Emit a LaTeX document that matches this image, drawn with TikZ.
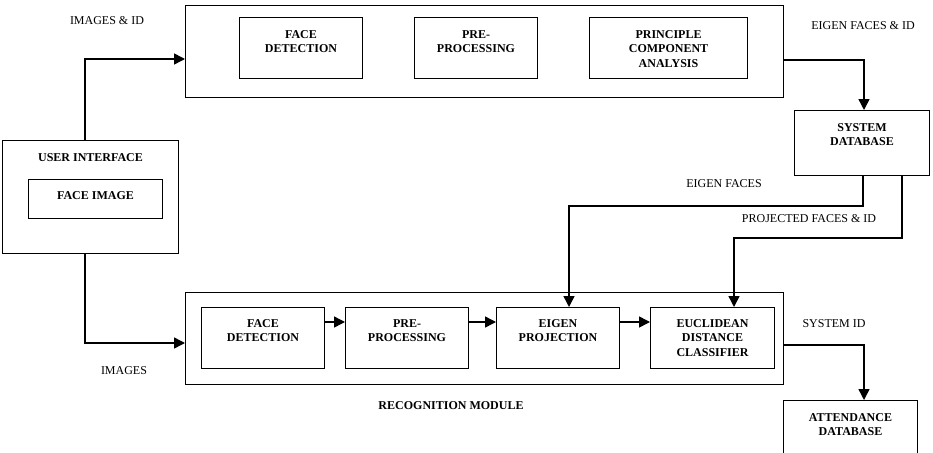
\documentclass[tikz,border=0pt]{standalone}
\usepackage{fontspec}
\setmainfont{Liberation Serif}
\usetikzlibrary{arrows.meta,calc}
\begin{document}
\begin{tikzpicture}[x=1pt,y=-1pt,
  box/.style={draw,line width=1pt,inner sep=0pt,anchor=north west},
  outer/.style={draw,line width=1.3pt,inner sep=0pt,anchor=north west},
  btxt/.style={font=\fontsize{12}{14.5}\selectfont\bfseries,align=center,inner sep=0pt,anchor=north},
  lbl/.style={font=\fontsize{12}{14}\selectfont,inner sep=0pt},
  blbl/.style={font=\fontsize{12}{14}\selectfont\bfseries,inner sep=0pt},
  arr/.style={line width=1.5pt,-{Triangle[length=11pt,width=11pt]}}]
\clip (0,0) rectangle (933,452);
\fill[white] (0,0) rectangle (933,452);
% top module
\node[outer,minimum width=598pt,minimum height=92pt] (tm) at (185,5) {};
\node[box,minimum width=123pt,minimum height=61pt] (fd1) at (239,17) {};
\node[box,minimum width=123pt,minimum height=61pt] (pp1) at (414,17) {};
\node[box,minimum width=158pt,minimum height=61pt] (pca) at (589,17) {};
\node[btxt] (fd1t) at ($(fd1.north)+(0,13)$) {FACE\\DETECTION};
\node[btxt] (pp1t) at ($(pp1.north)+(0,13)$) {PRE-\\PROCESSING};
\node[btxt] (pcat) at ($(pca.north)+(0,13)$) {PRINCIPLE\\COMPONENT\\ANALYSIS};
% user interface
\node[box,minimum width=176pt,minimum height=113pt] (ui) at (2,140) {};
\node[btxt] (uit) at ($(ui.north)+(0,13)$) {USER INTERFACE};
\node[box,minimum width=134pt,minimum height=39pt] (fi) at (28,179) {};
\node[btxt] (fit) at ($(fi.north)+(0,12)$) {FACE IMAGE};
% system database
\node[box,minimum width=135pt,minimum height=65pt] (sdb) at (794,110) {};
\node[btxt] (sdbt) at ($(sdb.north)+(0,13)$) {SYSTEM\\DATABASE};
% recognition module
\node[outer,minimum width=598pt,minimum height=92pt] (bm) at (185,292) {};
\node[box,minimum width=123pt,minimum height=61pt] (fd2) at (201,307) {};
\node[box,minimum width=123pt,minimum height=61pt] (pp2) at (345,307) {};
\node[box,minimum width=123pt,minimum height=61pt] (ep) at (496,307) {};
\node[box,minimum width=124pt,minimum height=61pt] (ed) at (650,307) {};
\node[btxt] (fd2t) at ($(fd2.north)+(0,12)$) {FACE\\DETECTION};
\node[btxt] (pp2t) at ($(pp2.north)+(0,12)$) {PRE-\\PROCESSING};
\node[btxt] (ept) at ($(ep.north)+(0,12)$) {EIGEN\\PROJECTION};
\node[btxt] (edt) at ($(ed.north)+(0,12)$) {EUCLIDEAN\\DISTANCE\\CLASSIFIER};
% attendance database
\node[box,minimum width=134pt,minimum height=70pt] (adb) at (783,400) {};
\node[btxt] (adbt) at ($(adb.north)+(0,13)$) {ATTENDANCE\\DATABASE};
% labels
\node[lbl] (l1) at (107,21) {IMAGES \& ID};
\node[lbl] (l2) at (124,371) {IMAGES};
\node[blbl] (l3) at (451,406) {RECOGNITION MODULE};
\node[lbl] (l4) at (863,26) {EIGEN FACES \& ID};
\node[lbl] (l5) at (724,184) {EIGEN FACES};
\node[lbl] (l6) at (809,219) {PROJECTED FACES \& ID};
\node[lbl] (l7) at (834,324) {SYSTEM ID};
% connectors
\coordinate (c1) at (85,59);
\draw[arr] (ui.north -| c1) |- (tm.west |- c1);
\coordinate (c2) at (85,343);
\draw[arr] (ui.south -| c2) |- (bm.west |- c2);
\coordinate (c3) at (864,60);
\draw[arr] (tm.east |- c3) -| (sdb.north -| c3);
\coordinate (c4) at (863,206);
\coordinate (c4b) at (569,206);
\draw[arr] (sdb.south -| c4) -- (c4) -- (c4b) -- (ep.north -| c4b);
\coordinate (c5) at (902,238);
\coordinate (c5b) at (734,238);
\draw[arr] (sdb.south -| c5) -- (c5) -- (c5b) -- (ed.north -| c5b);
\coordinate (r) at (0,322);
\draw[arr] (fd2.east |- r) -- (pp2.west |- r);
\draw[arr] (pp2.east |- r) -- (ep.west |- r);
\draw[arr] (ep.east |- r) -- (ed.west |- r);
\coordinate (c6) at (864,345);
\draw[arr] (bm.east |- c6) -| (adb.north -| c6);
\end{tikzpicture}
\end{document}
